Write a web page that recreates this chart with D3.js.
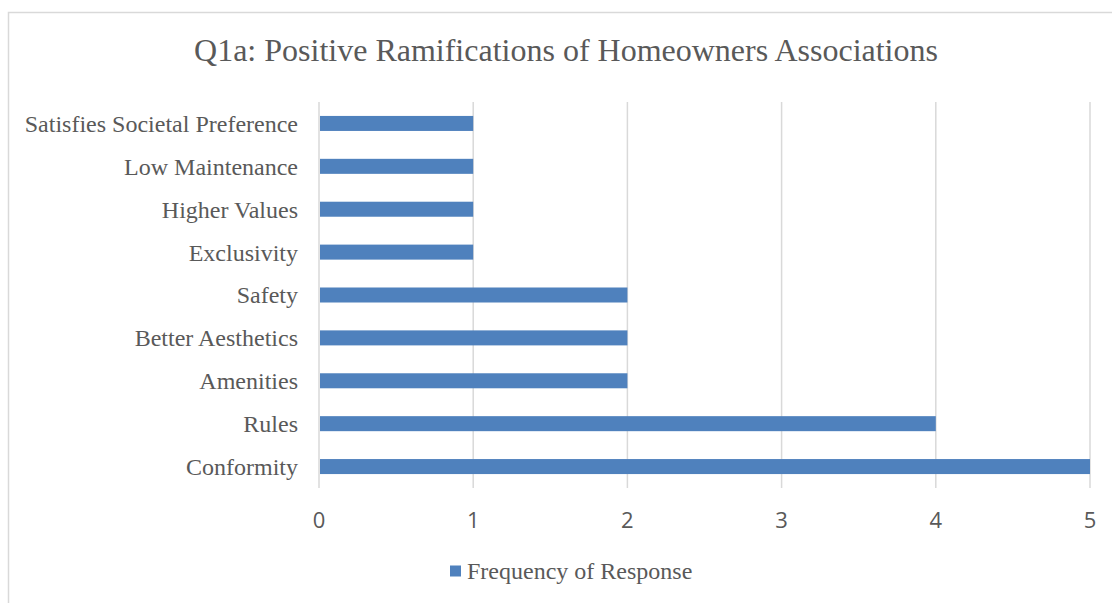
<!DOCTYPE html>
<html>
<head>
<meta charset="utf-8">
<script src="https://cdn.jsdelivr.net/npm/d3@7"></script>
<style>
  body { margin: 0; background: #fff; }
  svg { display: block; }
</style>
</head>
<body>
<svg id="chart" width="1112" height="603"></svg>
<script>
const categories = ['Satisfies Societal Preference', 'Low Maintenance', 'Higher Values', 'Exclusivity',
  'Safety', 'Better Aesthetics', 'Amenities', 'Rules', 'Conformity'];
const frequency = [1, 1, 1, 1, 2, 2, 2, 4, 5];
const xTicks = [0, 1, 2, 3, 4, 5];
const seriesName = 'Frequency of Response';
const title = 'Q1a: Positive Ramifications of Homeowners Associations';

const svg = d3.select('#chart');
const serif = '"Liberation Serif", "Times New Roman", serif';
const sans = '"Open Sans", "Liberation Sans", sans-serif';

// chart frame
svg.append('rect')
  .attr('x', 8.5).attr('y', 12.5)
  .attr('width', 1120).attr('height', 600)
  .attr('fill', 'none').attr('stroke', '#d9d9d9').attr('stroke-width', 1.5);

const margin = { top: 102, left: 319, right: 1090, bottom: 488 };

const x = d3.scaleLinear().domain([0, 5]).range([margin.left, margin.right]);
const y = d3.scaleBand().domain(categories).range([margin.top, margin.bottom]).paddingInner(0.65).paddingOuter(0.325);

svg.append('text')
  .attr('x', 566).attr('y', 61)
  .attr('text-anchor', 'middle')
  .style('font', `32px ${serif}`)
  .attr('fill', '#595959')
  .text(title);

// gridlines
svg.append('g')
  .selectAll('line')
  .data(xTicks)
  .join('line')
  .attr('x1', d => x(d)).attr('x2', d => x(d))
  .attr('y1', margin.top).attr('y2', margin.bottom)
  .attr('stroke', '#d9d9d9').attr('stroke-width', 1.5);

// bars
svg.append('g')
  .selectAll('rect')
  .data(categories)
  .join('rect')
  .attr('x', x(0) + 1)
  .attr('y', d => y(d))
  .attr('width', (d, i) => x(frequency[i]) - x(0) - 1)
  .attr('height', y.bandwidth())
  .attr('fill', '#4f81bd');

// category labels
svg.append('g')
  .selectAll('text')
  .data(categories)
  .join('text')
  .attr('x', 298)
  .attr('y', d => y(d) + y.bandwidth() / 2)
  .attr('dy', '0.35em')
  .attr('text-anchor', 'end')
  .style('font', `24px ${serif}`)
  .attr('fill', '#595959')
  .text(d => d);

// x tick labels
svg.append('g')
  .selectAll('text')
  .data(xTicks)
  .join('text')
  .attr('x', d => x(d))
  .attr('y', 520)
  .attr('dy', '0.35em')
  .attr('text-anchor', 'middle')
  .style('font', `22px ${sans}`)
  .attr('fill', '#595959')
  .text(d => d);

// legend
const legend = svg.append('g').attr('transform', 'translate(450,571)');
legend.append('rect')
  .attr('x', 0).attr('y', -5.5).attr('width', 11).attr('height', 11)
  .attr('fill', '#4f81bd');
legend.append('text')
  .attr('x', 17).attr('y', 0).attr('dy', '0.35em')
  .style('font', `24px ${serif}`)
  .attr('fill', '#595959')
  .text(seriesName);
</script>
</body>
</html>
